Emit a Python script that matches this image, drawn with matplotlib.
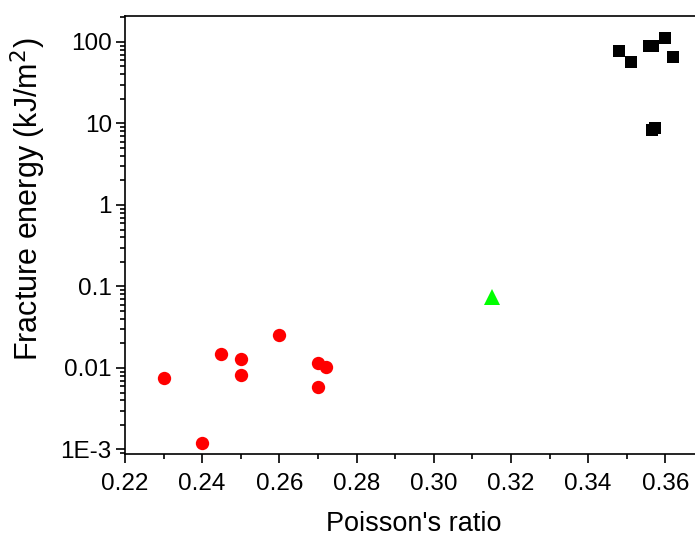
import numpy as np
from matplotlib import pyplot as plt
from matplotlib.ticker import FixedLocator, FixedFormatter, LogLocator, MultipleLocator

plt.rcParams['font.family'] = ['Liberation Sans', 'DejaVu Sans']

# red circles
circ_nu = [0.230, 0.240, 0.245, 0.250, 0.250, 0.260, 0.270, 0.272, 0.270]
circ_g = [0.0075, 0.0012, 0.015, 0.0129, 0.0083, 0.0257, 0.0114, 0.0102, 0.0059]

# green triangle
tri_nu = [0.315]
tri_g = [0.075]

# black squares
sq_nu = [0.348, 0.351, 0.3559, 0.3567, 0.360, 0.362, 0.3565, 0.3574]
sq_g = [78, 57, 88, 88, 113, 66, 8.2, 8.9]

ytick_vals = [1e-3, 1e-2, 1e-1, 1, 10, 100]
ytick_labels = ['1E-3', '0.01', '0.1', '1', '10', '100']

fig = plt.figure(figsize=(6.95, 5.36), dpi=100)
ax = fig.add_axes([125 / 695, 82 / 536, 570 / 695, 438.3 / 536])

ax.plot(circ_nu, circ_g, 'o', color='#ff0000', markersize=9.6, markeredgewidth=0)
ax.plot(tri_nu, tri_g, '^', color='#00ff00', markersize=11.5, markeredgewidth=0)
ax.plot(sq_nu, sq_g, 's', color='black', markersize=9.2, markeredgewidth=0)

ax.set_yscale('log')
ax.set_xlim(0.22, 0.3677)
ax.set_ylim(8.8e-4, 210)

ax.xaxis.set_major_locator(MultipleLocator(0.02))
ax.xaxis.set_minor_locator(MultipleLocator(0.01))
ax.xaxis.set_major_formatter(plt.FuncFormatter(lambda v, p: f'{v:.2f}'))
ax.yaxis.set_major_locator(FixedLocator(ytick_vals))
ax.yaxis.set_major_formatter(FixedFormatter(ytick_labels))
ax.yaxis.set_minor_locator(LogLocator(base=10, subs=np.arange(2, 10)))
ax.yaxis.set_minor_formatter(plt.NullFormatter())

for s in ax.spines.values():
    s.set_linewidth(1.2)
ax.spines['right'].set_visible(False)

ax.tick_params(which='both', direction='out', width=1.2, labelsize=17.5, top=False, right=False)
ax.tick_params(which='major', length=6.5)
ax.tick_params(which='minor', length=3.5)
ax.tick_params(axis='x', which='major', pad=7)
ax.tick_params(axis='y', which='major', pad=3)

ax.set_xlabel("Poisson's ratio", fontsize=19.5, labelpad=12)
ax.set_ylabel('Fracture energy (kJ/m$^2$)', fontsize=22, labelpad=9)
ax.xaxis.label.set_x(0.507)
ax.yaxis.label.set_y(0.58)

fig.savefig('out.png', dpi=100)
